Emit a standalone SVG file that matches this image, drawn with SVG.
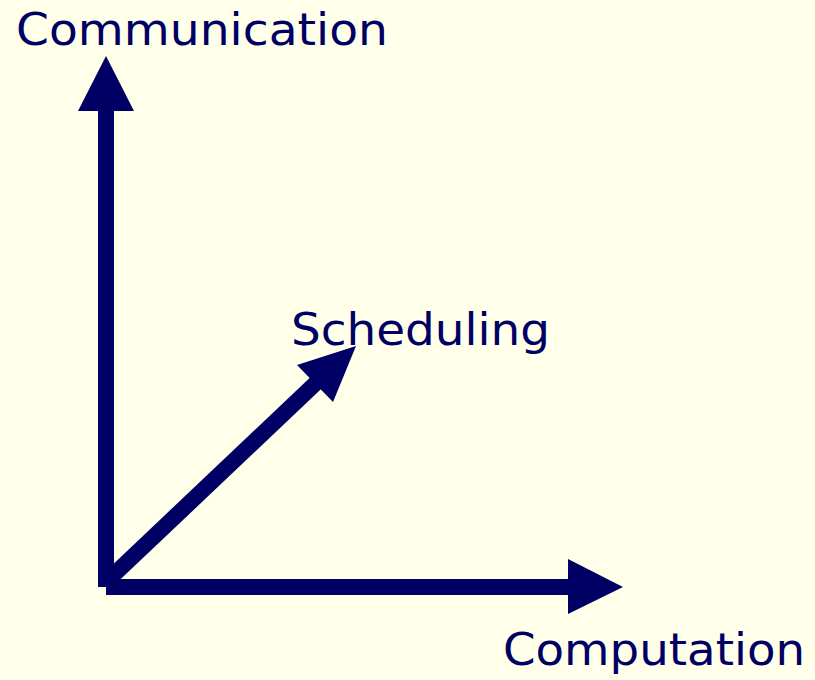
<svg xmlns="http://www.w3.org/2000/svg" width="815" height="680" viewBox="0 0 815 680">
  <style>
    .shaft { stroke: #000064; stroke-width: 16; fill: none; }
    .head { fill: #000064; }
    .label { font-family: "DejaVu Sans", Verdana, sans-serif; font-size: 44px; fill: #000064; }
  </style>
  <rect width="815" height="680" fill="#FFFFEA"/>

  <g id="connectors">
    <!-- vertical axis -->
    <line class="shaft" x1="106" y1="587" x2="106" y2="108"/>
    <polygon class="head" points="106,56 78,111 134,111"/>
    <!-- horizontal axis -->
    <line class="shaft" x1="106" y1="587" x2="571" y2="587"/>
    <polygon class="head" points="623,587 568,559 568,614"/>
    <!-- diagonal axis -->
    <line class="shaft" x1="106" y1="582" x2="318" y2="381"/>
    <polygon class="head" points="356,346 297,365 333,402"/>
  </g>

  <g id="communication">
    <text class="label" x="16" y="45" textLength="372" lengthAdjust="spacingAndGlyphs">Communication</text>
  </g>
  <g id="scheduling">
    <text class="label" x="291" y="345" textLength="259" lengthAdjust="spacingAndGlyphs">Scheduling</text>
  </g>
  <g id="computation">
    <text class="label" x="503" y="665" textLength="302" lengthAdjust="spacingAndGlyphs">Computation</text>
  </g>
</svg>
